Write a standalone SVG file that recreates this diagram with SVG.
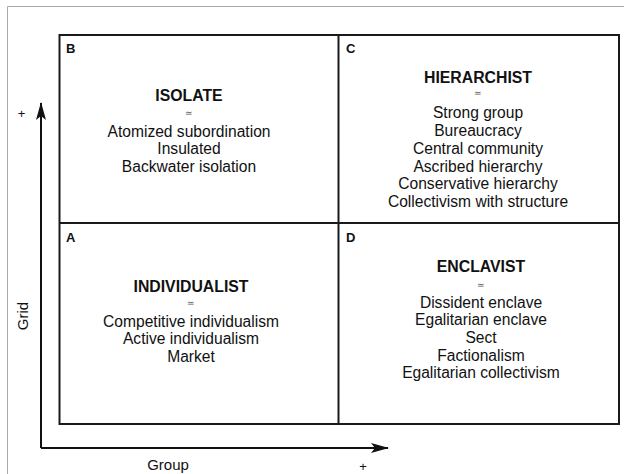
<svg xmlns="http://www.w3.org/2000/svg" width="624" height="474" viewBox="0 0 624 474">
<style>
.t{font-family:"Liberation Sans",Arial,sans-serif;fill:#111;text-anchor:middle}
.h{font-size:15.8px;font-weight:bold}
.b{font-size:15.6px}
.l{font-family:"Liberation Sans",Arial,sans-serif;font-size:13px;font-weight:bold;fill:#111}
.s{font-size:9px;fill:#555}
.ax{font-size:15px}
.pl{font-size:13px}
.box{fill:none;stroke:#1a1a1a;stroke-width:2}
.axis{fill:none;stroke:#111;stroke-width:2}
</style>
<defs>
<marker id="ah" viewBox="0 0 18 10" refX="17" refY="5" markerWidth="18" markerHeight="10" markerUnits="userSpaceOnUse" orient="auto">
<path d="M0,0 L18,5 L0,10 L4,5 Z" fill="#111"/>
</marker>
</defs>
<rect width="624" height="474" fill="#fff"/>
<path d="M7.5,474 V6.5 H624" fill="none" stroke="#aaa" stroke-width="1"/>
<g id="connectors">
<path class="axis" d="M41,448 V103" marker-end="url(#ah)"/>
<path class="axis" d="M41,448 H388" marker-end="url(#ah)"/>
</g>
<g id="axis-labels">
<text class="t pl" x="21.5" y="118">+</text>
<text class="t pl" x="363" y="471">+</text>
<text class="t ax" x="168" y="470">Group</text>
<text class="t ax" transform="translate(28,316) rotate(-90)">Grid</text>
</g>
<g id="grid">
<rect class="box" x="59.5" y="35" width="559.5" height="389"/>
<line class="box" x1="338.5" y1="35" x2="338.5" y2="424"/>
<line class="box" x1="59.5" y1="223" x2="619" y2="223"/>
</g>
<g id="B">
<text class="l" x="66" y="53">B</text>
<text class="t h" x="189" y="101">ISOLATE</text>
<text class="t s" x="189" y="116">≃</text>
<text class="t b" x="189" y="137">Atomized subordination</text>
<text class="t b" x="189" y="154">Insulated</text>
<text class="t b" x="189" y="172">Backwater isolation</text>
</g>
<g id="C">
<text class="l" x="346" y="53">C</text>
<text class="t h" x="478" y="83">HIERARCHIST</text>
<text class="t s" x="478" y="96">≃</text>
<text class="t b" x="478" y="118">Strong group</text>
<text class="t b" x="478" y="136">Bureaucracy</text>
<text class="t b" x="478" y="154">Central community</text>
<text class="t b" x="478" y="172">Ascribed hierarchy</text>
<text class="t b" x="478" y="189">Conservative hierarchy</text>
<text class="t b" x="478" y="207">Collectivism with structure</text>
</g>
<g id="A">
<text class="l" x="66" y="242">A</text>
<text class="t h" x="191" y="292">INDIVIDUALIST</text>
<text class="t s" x="191" y="306">≃</text>
<text class="t b" x="191" y="327">Competitive individualism</text>
<text class="t b" x="191" y="344">Active individualism</text>
<text class="t b" x="191" y="362">Market</text>
</g>
<g id="D">
<text class="l" x="346" y="242">D</text>
<text class="t h" x="481" y="272">ENCLAVIST</text>
<text class="t s" x="481" y="288">≃</text>
<text class="t b" x="481" y="308">Dissident enclave</text>
<text class="t b" x="481" y="325">Egalitarian enclave</text>
<text class="t b" x="481" y="343">Sect</text>
<text class="t b" x="481" y="361">Factionalism</text>
<text class="t b" x="481" y="378">Egalitarian collectivism</text>
</g>
</svg>
